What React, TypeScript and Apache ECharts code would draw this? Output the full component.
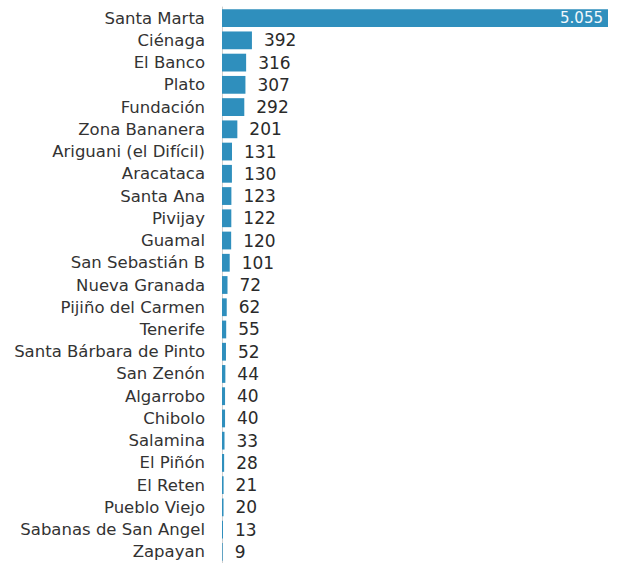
import React, { useEffect, useRef } from "react";
import * as echarts from "echarts";

const categories = [
  "Santa Marta", "Ciénaga", "El Banco", "Plato", "Fundación", "Zona Bananera",
  "Ariguani (el Difícil)", "Aracataca", "Santa Ana", "Pivijay", "Guamal",
  "San Sebastián B", "Nueva Granada", "Pijiño del Carmen", "Tenerife",
  "Santa Bárbara de Pinto", "San Zenón", "Algarrobo", "Chibolo", "Salamina",
  "El Piñón", "El Reten", "Pueblo Viejo", "Sabanas de San Angel", "Zapayan",
];
const values = [5055, 392, 316, 307, 292, 201, 131, 130, 123, 122, 120, 101, 72, 62, 55, 52, 44, 40, 40, 33, 28, 21, 20, 13, 9];

const fmt = (v: number) => v.toString().replace(/\B(?=(\d{3})+(?!\d))/g, ".");

export default function App() {
  const ref = useRef<HTMLDivElement>(null);
  useEffect(() => {
    if (!ref.current) return;
    const chart = echarts.init(ref.current, undefined, { renderer: "svg" });
    const font = "DejaVu Sans";
    chart.setOption({
      animation: false,
      grid: { left: 222, right: 10, top: 7, bottom: 0, containLabel: false },
      xAxis: { type: "value", min: 0, max: 5055, show: false },
      yAxis: {
        type: "category",
        inverse: true,
        data: categories,
        axisTick: { show: false },
        axisLine: { show: true, lineStyle: { color: "#cfcfcf", width: 1 } },
        axisLabel: { color: "#333333", fontSize: 16.5, fontFamily: font, margin: 17 },
      },
      series: [
        {
          type: "bar",
          data: values.map((v, i) =>
            i === 0
              ? {
                  value: v,
                  label: {
                    position: "insideRight",
                    color: "#f2f8fc",
                    distance: 5,
                    fontSize: 15,
                  },
                }
              : v
          ),
          barWidth: "80%",
          itemStyle: { color: "#2f8fbd" },
          label: {
            show: true,
            position: "right",
            distance: 12,
            color: "#2a2a2a",
            fontSize: 17,
            fontFamily: font,
            formatter: (p: any) => fmt(p.value),
          },
        },
      ],
    });
    return () => chart.dispose();
  }, []);
  return <div ref={ref} style={{ position: "fixed", left: 0, top: 0, width: 618, height: 563, background: "#fff" }} />;
}
